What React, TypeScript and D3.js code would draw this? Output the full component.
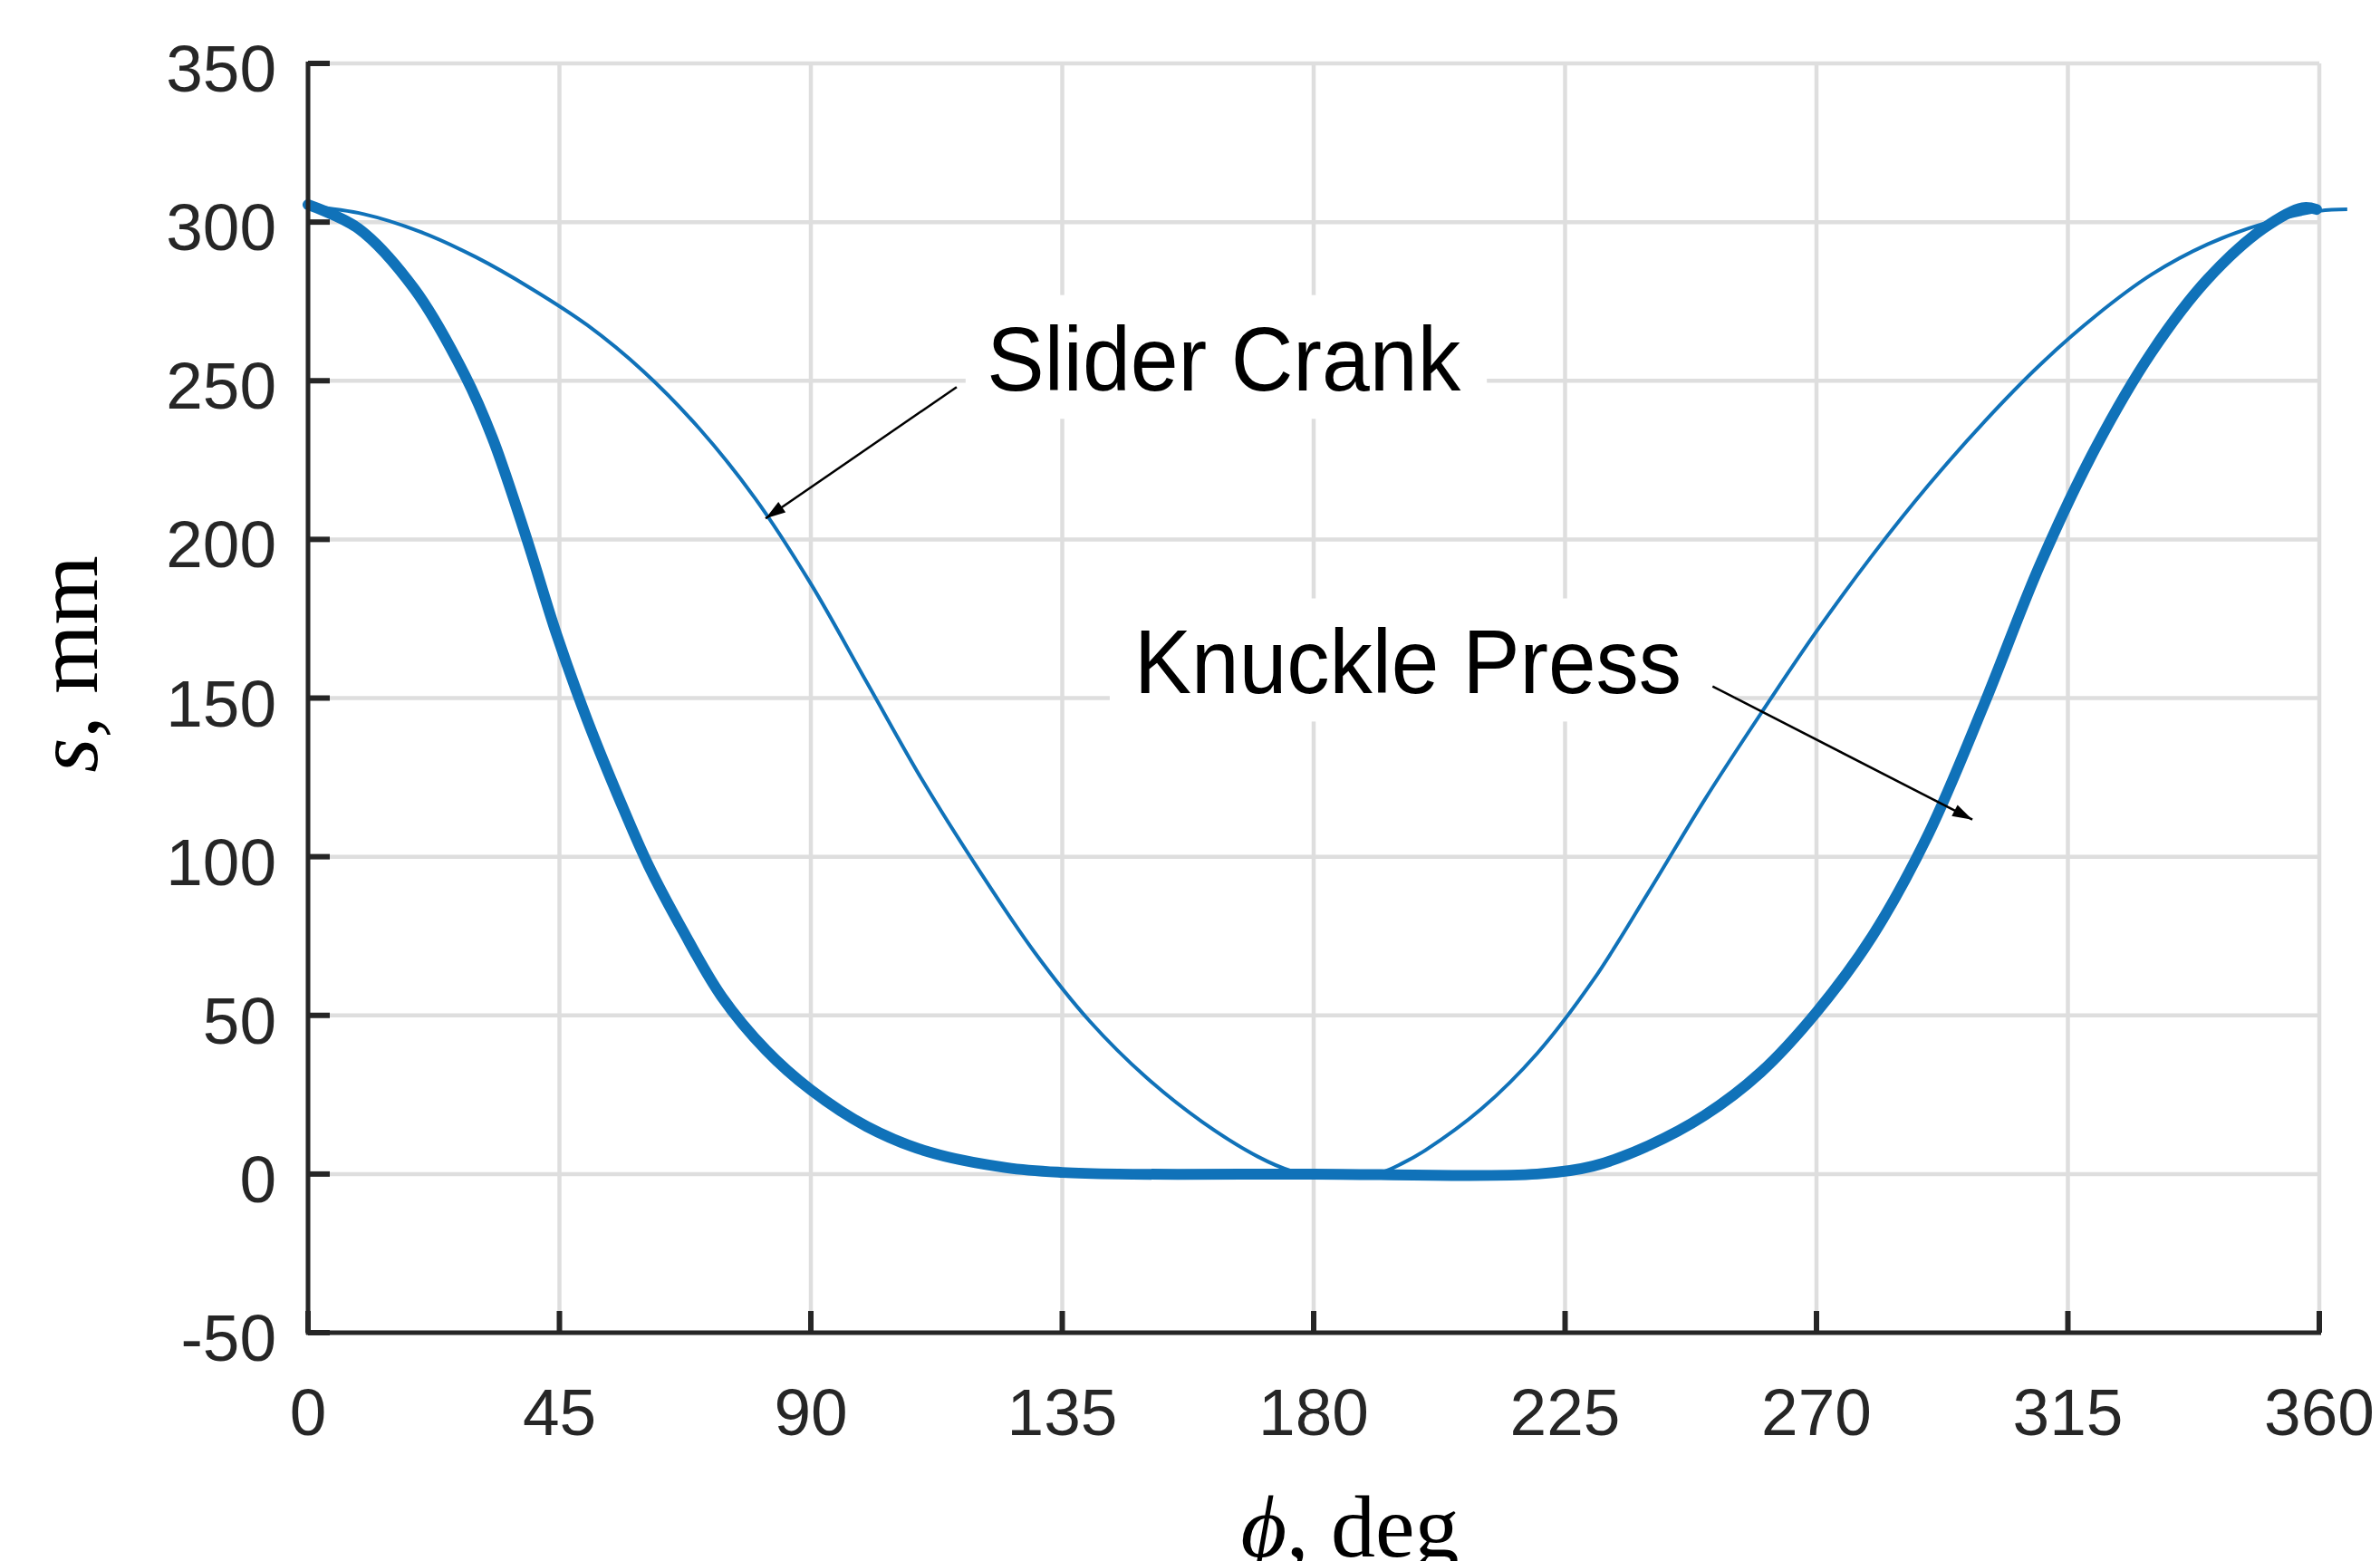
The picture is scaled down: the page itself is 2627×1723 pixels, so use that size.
import React from "react";
import * as d3 from "d3";

// ---- data ----
const sliderPhi = [0, 10, 20, 30, 40, 50, 60, 70, 80, 90, 100, 110, 120, 130, 140, 150, 160, 170, 176, 180, 186, 192, 196, 200, 210, 220, 230, 240, 250, 260, 270, 280, 290, 300, 310, 320, 330, 340, 350, 360, 365];
const sliderS = [305, 302.5, 297, 289, 279, 267.5, 253, 235, 213, 186, 155, 124, 96, 70, 48, 30.5, 16.5, 5.5, 1, 0, 0, 0.5, 3.5, 7.5, 20.5, 38, 61, 89, 118, 145, 171, 195, 217, 237, 255, 270.5, 283.5, 293, 299.5, 303.5, 304];

const knucklePhi = [0, 9, 19, 28, 33, 39, 44.5, 50, 56, 61, 67, 74, 82, 90, 100, 111, 125, 135, 145, 180, 220, 230, 240, 250, 260, 270, 280, 290, 300, 310, 320, 330, 340, 350, 357, 359.5];
const knuckleS = [305.5, 298, 279, 252, 232, 201, 170, 143, 117, 97, 77, 56, 39, 26.5, 15, 7, 2, 0.5, 0, 0, 0, 2.5, 9, 18.5, 32, 51, 75, 107, 148, 192, 229, 259, 282, 298, 304.5, 304];

const xTicks = [0, 45, 90, 135, 180, 225, 270, 315, 360];
const yTicks = [-50, 0, 50, 100, 150, 200, 250, 300, 350];

const labels = [
  { text: "Slider Crank", x: 121.5, y: 247, len: 523, box: [117.7, 211, 277, 238], from: [116.1, 248], to: [81.9, 206.6] },
  { text: "Knuckle Press", x: 147.9, y: 151.7, len: 604, box: [143.5, 255.4, 181.4, 142.6], from: [251.4, 153.7], to: [297.9, 111.7] },
];

const W = 2627;
const H = 1723;
const BLUE = "#1072b9";
const DARK = "#262626";
const GRID = "#dedede";

export default function App() {
  const x = d3.scaleLinear().domain([0, 360]).range([340, 2560]);
  const y = d3.scaleLinear().domain([-50, 350]).range([1471, 70]);

  const line = d3
    .line<[number, number]>()
    .x((d) => x(d[0]))
    .y((d) => y(d[1]))
    .curve(d3.curveCatmullRom.alpha(0.5));

  const slider = line(sliderPhi.map((p, i) => [p, sliderS[i]] as [number, number])) || "";
  const knuckle = line(knucklePhi.map((p, i) => [p, knuckleS[i]] as [number, number])) || "";

  const sans = "'Liberation Sans', Arial, Helvetica, sans-serif";
  const serif = "'Liberation Serif', 'Times New Roman', 'DejaVu Serif', serif";

  const arrowHead = (fx: number, fy: number, tx: number, ty: number) => {
    const ang = Math.atan2(ty - fy, tx - fx);
    const L = 22;
    const Wd = 7;
    const bx = tx - L * Math.cos(ang);
    const by = ty - L * Math.sin(ang);
    const px = -Math.sin(ang) * Wd;
    const py = Math.cos(ang) * Wd;
    return `M${tx},${ty}L${bx + px},${by + py}L${bx - px},${by - py}Z`;
  };

  return (
    <svg
      width={W}
      height={H}
      viewBox={`0 0 ${W} ${H}`}
      style={{ position: "absolute", left: 0, top: 0, background: "#fff" }}
    >
      <rect x={0} y={0} width={W} height={H} fill="#fff" />
      {/* grid */}
      <g stroke={GRID} strokeWidth={4.5}>
        {xTicks.map((t) => (
          <line key={"gx" + t} x1={x(t)} x2={x(t)} y1={y(350)} y2={y(-50)} />
        ))}
        {yTicks.map((t) => (
          <line key={"gy" + t} x1={x(0)} x2={x(360)} y1={y(t)} y2={y(t)} />
        ))}
      </g>
      {/* white label boxes */}
      {labels.map((l) => (
        <rect
          key={"box" + l.text}
          x={x(l.box[0])}
          y={y(l.box[2])}
          width={x(l.box[1]) - x(l.box[0])}
          height={y(l.box[3]) - y(l.box[2])}
          fill="#fff"
        />
      ))}
      {/* curves */}
      <path d={slider} fill="none" stroke={BLUE} strokeWidth={4} strokeLinejoin="round" />
      <path d={knuckle} fill="none" stroke={BLUE} strokeWidth={12} strokeLinejoin="round" strokeLinecap="round" />
      {/* axes */}
      <g stroke={DARK} strokeWidth={5}>
        <line x1={x(0)} x2={x(0)} y1={y(350) - 2} y2={y(-50) + 2} />
        <line x1={x(0) - 2} x2={x(360) + 2} y1={y(-50)} y2={y(-50)} />
        {yTicks.map((t) => (
          <line key={"ty" + t} x1={x(0)} x2={x(0) + 24} y1={y(t)} y2={y(t)} strokeWidth={6} />
        ))}
        {xTicks.map((t) => (
          <line key={"tx" + t} x1={x(t)} x2={x(t)} y1={y(-50)} y2={y(-50) - 24} strokeWidth={6} />
        ))}
      </g>
      {/* tick labels */}
      <g fontFamily={sans} fontSize={73} fill={DARK}>
        {yTicks.map((t) => (
          <text key={"ly" + t} x={x(0) - 35} y={y(t) + 31} textAnchor="end">
            {t}
          </text>
        ))}
        {xTicks.map((t) => (
          <text key={"lx" + t} x={x(t)} y={1584} textAnchor="middle">
            {t}
          </text>
        ))}
      </g>
      {/* axis labels */}
      <text
        transform={`translate(107,733) rotate(-90)`}
        textAnchor="middle"
        fontFamily={serif}
        fontSize={98}
        fill="#000"
      >
        <tspan fontStyle="italic">s</tspan>, mm
      </text>
      <text x={1490} y={1718} textAnchor="middle" fontFamily={serif} fontSize={98} fill="#000">
        <tspan fontStyle="italic">ϕ</tspan>, deg
      </text>
      {/* annotations */}
      {labels.map((l) => {
        const fx = x(l.from[0]);
        const fy = y(l.from[1]);
        const tx = x(l.to[0]);
        const ty = y(l.to[1]);
        return (
          <g key={"ann" + l.text}>
            <text
              x={x(l.x)}
              y={y(l.y)}
              fontFamily={sans}
              fontSize={100}
              fill="#000"
              textLength={l.len}
              lengthAdjust="spacingAndGlyphs"
            >
              {l.text}
            </text>
            <line x1={fx} y1={fy} x2={tx} y2={ty} stroke="#000" strokeWidth={2.5} />
            <path d={arrowHead(fx, fy, tx, ty)} fill="#000" />
          </g>
        );
      })}
    </svg>
  );
}
